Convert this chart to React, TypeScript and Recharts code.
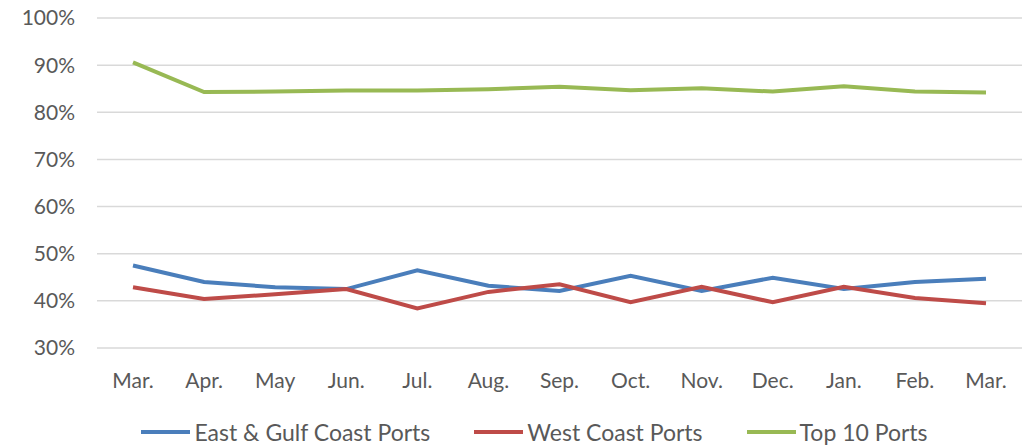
import React from "react";
import { LineChart, Line, XAxis, YAxis, CartesianGrid, Legend } from "recharts";

const MONTHS = ["Mar.", "Apr.", "May", "Jun.", "Jul.", "Aug.", "Sep.", "Oct.", "Nov.", "Dec.", "Jan.", "Feb.", "Mar."];
const EAST_GULF = [47.5, 44.0, 42.9, 42.5, 46.5, 43.2, 42.1, 45.3, 42.1, 44.9, 42.5, 44.0, 44.7];
const WEST = [42.9, 40.4, 41.4, 42.5, 38.4, 41.9, 43.5, 39.7, 43.0, 39.7, 43.0, 40.6, 39.5];
const TOP10 = [90.6, 84.3, 84.4, 84.6, 84.6, 84.9, 85.4, 84.7, 85.1, 84.4, 85.5, 84.4, 84.2];
const Y_TICKS = [30, 40, 50, 60, 70, 80, 90, 100];

const SERIES = [
    { key: "east", name: "East & Gulf Coast Ports", color: "#4a7ebb" },
    { key: "west", name: "West Coast Ports", color: "#be4b48" },
    { key: "top", name: "Top 10 Ports", color: "#98b954" },
];

const data = MONTHS.map((m, i) => ({
    idx: i,
    month: m,
    east: EAST_GULF[i],
    west: WEST[i],
    top: TOP10[i],
}));

const FONT = "Lato, 'Open Sans', sans-serif";
const TEXT = "#595959";

function LegendRow() {
    return (
        <div
            style={{
                display: "flex",
                justifyContent: "center",
                gap: 44,
                height: 28,
                lineHeight: "28px",
                fontFamily: FONT,
                fontSize: 23,
                color: TEXT,
            }}
        >
            {SERIES.map((s) => (
                <div key={s.key} style={{ display: "flex", alignItems: "center" }}>
                    <span style={{ display: "inline-block", width: 49, height: 4, background: s.color, marginRight: 4 }} />
                    <span>{s.name}</span>
                </div>
            ))}
        </div>
    );
}

export default function App() {
    return (
        <div style={{ position: "absolute", left: 0, top: 0, width: 1028, height: 448, background: "#fff" }}>
            <LineChart width={1028} height={448} data={data} margin={{ top: 18, right: 6, bottom: 14, left: 17 }}>
                <CartesianGrid vertical={false} stroke="#d9d9d9" strokeWidth={1.5} />
                <XAxis
                    dataKey="idx"
                    tickFormatter={(i) => MONTHS[i]}
                    axisLine={false}
                    tickLine={false}
                    tickSize={0}
                    tickMargin={25}
                    interval={0}
                    padding={{ left: 36, right: 36 }}
                    height={58}
                    tick={{ fill: TEXT, fontSize: 21, fontFamily: FONT }}
                />
                <YAxis
                    domain={[30, 100]}
                    ticks={Y_TICKS}
                    tickFormatter={(v) => `${v}%`}
                    axisLine={false}
                    tickLine={false}
                    tickSize={0}
                    tickMargin={22}
                    width={80}
                    tick={{ fill: TEXT, fontSize: 21, fontFamily: FONT }}
                />
                <Legend
                    verticalAlign="bottom"
                    content={() => <LegendRow />}
                    wrapperStyle={{ left: 0, width: 1069, bottom: 2 }}
                />
                {SERIES.map((s) => (
                    <Line
                        key={s.key}
                        type="linear"
                        dataKey={s.key}
                        name={s.name}
                        stroke={s.color}
                        strokeWidth={4}
                        dot={false}
                        activeDot={false}
                        isAnimationActive={false}
                    />
                ))}
            </LineChart>
        </div>
    );
}
